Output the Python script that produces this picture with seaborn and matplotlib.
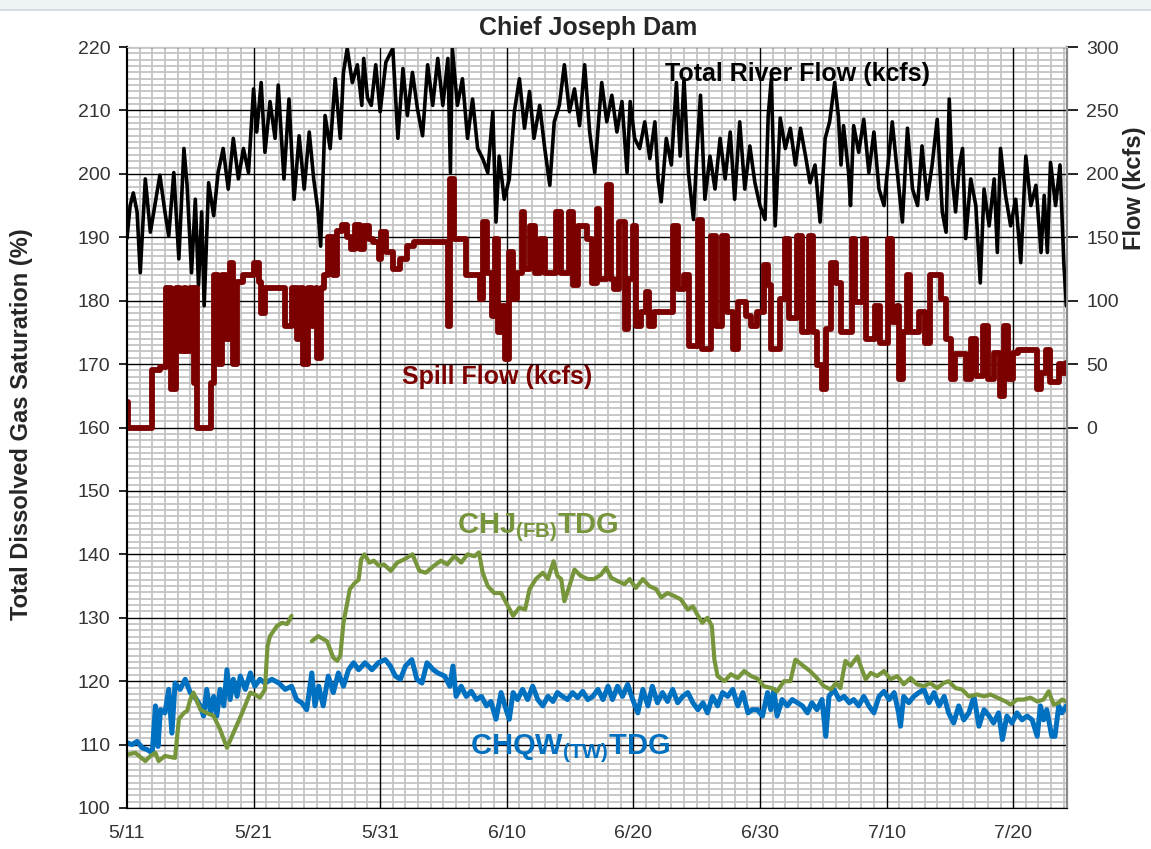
import matplotlib
matplotlib.use("Agg")
import matplotlib.pyplot as plt
import matplotlib.dates as mdates
from matplotlib.patches import Rectangle
import pandas as pd
import seaborn as sns

START = pd.Timestamp("2011-05-11")

# Total river flow (kcfs), right axis
flow_days = [0.0, 0.25, 0.5, 0.8, 1.05, 1.45, 1.85, 2.2, 2.6, 3.0, 3.3, 3.7, 4.1, 4.5, 4.75, 5.1, 5.4, 5.65,
             5.9, 6.1, 6.45, 6.85, 7.2, 7.6, 8.0, 8.4, 8.8, 9.2, 9.6, 10.0, 10.25, 10.6, 10.9, 11.3, 11.7,
             11.95, 12.4, 12.8, 13.2, 13.6, 14.0, 14.4, 14.75, 15.1, 15.3, 15.65, 16.05, 16.45, 16.85, 17.1,
             17.4, 17.8, 18.2, 18.55, 18.7, 19.0, 19.3, 19.65, 20.0, 20.45, 21.0, 21.4, 21.8, 22.15, 22.55,
             22.95, 23.35, 23.75, 24.15, 24.55, 24.95, 25.35, 25.55, 25.7, 26.1, 26.5, 26.9, 27.3, 27.7,
             28.1, 28.5, 28.9, 29.15, 29.4, 29.8, 30.2, 30.6, 31.0, 31.4, 31.8, 32.15, 32.6, 33.0, 33.4,
             33.75, 34.15, 34.55, 34.95, 35.35, 35.75, 36.15, 36.55, 36.95, 37.35, 37.5, 37.9, 38.3, 38.7,
             39.1, 39.5, 39.75, 40.1, 40.5, 40.9, 41.3, 41.7, 41.95, 42.2, 42.6, 43.0, 43.4, 43.7, 44.0,
             44.35, 44.75, 45.0, 45.3, 45.65, 46.05, 46.45, 46.85, 47.25, 47.65, 48.0, 48.4, 48.8, 49.2,
             49.6, 50.0, 50.4, 50.65, 50.9, 51.2, 51.6, 52.0, 52.4, 52.8, 53.2, 53.6, 53.95, 54.35, 54.75,
             55.15, 55.5, 55.9, 56.2, 56.4, 56.6, 57.0, 57.15, 57.4, 57.8, 58.2, 58.6, 59.0, 59.4, 59.8,
             60.05, 60.45, 60.85, 61.25, 61.65, 62.05, 62.45, 62.8, 63.2, 63.6, 64.0, 64.4, 64.7, 64.95,
             65.2, 65.45, 65.75, 66.0, 66.25, 66.65, 67.05, 67.4, 67.7, 68.1, 68.5, 68.75, 69.0, 69.4,
             69.8, 70.2, 70.6, 71.0, 71.4, 71.8, 72.2, 72.45, 72.7, 72.95, 73.35, 73.7, 74.0, 74.2]
flow_kcfs = [149, 175, 185, 170, 122, 196, 154, 175, 199, 170, 151, 201, 133, 220, 191, 122, 180, 112,
             170, 96, 193, 167, 201, 220, 188, 228, 196, 220, 201, 267, 233, 272, 217, 257, 228,
             270, 196, 259, 180, 230, 188, 233, 196, 170, 143, 246, 220, 275, 228, 280,
             299, 272, 286, 254, 291, 260, 254, 286, 249, 288, 299, 228, 283, 246, 280,
             251, 230, 286, 254, 291, 254, 291, 201, 299, 254, 275, 228, 259, 220,
             212, 201, 249, 162, 214, 180, 196, 249, 275, 236, 265, 228, 254, 220, 191,
             241, 254, 286, 249, 267, 238, 286, 233, 201, 254, 272, 241, 262, 233,
             257, 201, 257, 228, 220, 241, 212, 241, 196, 178, 228, 207, 272, 214, 275,
             201, 164, 214, 262, 180, 214, 188, 228, 196, 233, 180, 241, 188, 222,
             193, 175, 164, 246, 275, 159, 244, 220, 236, 207, 236, 214, 193, 207, 162,
             228, 241, 272, 245, 207, 238, 201, 175, 238, 217, 243, 201, 233, 188, 175,
             201, 241, 201, 162, 236, 188, 175, 222, 180, 207, 243, 170, 154, 259,
             196, 170, 207, 220, 149, 196, 175, 114, 188, 159, 196, 138, 220, 183,
             159, 180, 130, 214, 175, 191, 138, 183, 138, 209, 175, 207, 130, 96]

# Spill flow (kcfs), right axis, stepped
spill_days = [0.0, 0.1, 2.0, 2.6, 3.05, 3.5, 3.9, 4.2, 4.5, 4.7, 5.0, 5.3, 5.45, 5.55, 6.6, 6.9, 7.2,
              7.5, 7.8, 8.1, 8.4, 8.7, 9.2, 10.0, 10.4, 10.6, 10.9, 12.5, 13.0, 13.4, 13.7, 13.9,
              14.3, 14.6, 14.9, 15.0, 15.3, 15.6, 15.9, 16.3, 16.6, 17.0, 17.4, 17.7, 18.0, 18.4,
              18.7, 19.1, 19.4, 19.9, 20.05, 20.45, 21.0, 21.6, 22.15, 22.7, 25.05, 25.35, 25.55,
              25.85, 26.8, 27.9, 28.15, 28.4, 28.8, 29.1, 29.3, 29.6, 29.9, 30.2, 30.5, 30.8, 31.2,
              31.4, 31.8, 32.2, 32.6, 33.0, 33.9, 34.3, 34.9, 35.2, 35.6, 36.3, 36.7, 37.1, 37.3,
              37.9, 38.2, 38.5, 38.9, 39.3, 39.6, 39.95, 40.2, 40.6, 41.0, 41.25, 41.6, 43.1, 43.5,
              44.0, 44.4, 45.1, 45.4, 46.15, 46.5, 47.0, 47.4, 47.9, 48.3, 48.9, 49.3, 49.8, 50.35,
              50.6, 50.85, 51.6, 52.0, 52.3, 52.95, 53.3, 53.9, 54.15, 54.5, 54.9, 55.2, 55.6, 56.0,
              56.4, 57.25, 57.5, 58.15, 58.4, 59.1, 59.5, 60.15, 60.4, 60.8, 60.95, 61.3, 61.6,
              61.85, 62.6, 63.0, 63.45, 64.3, 64.7, 65.1, 65.4, 66.3, 66.7, 67.1, 67.6, 68.0, 68.5,
              68.95, 69.25, 69.6, 70.0, 70.4, 71.85, 72.2, 72.6, 72.9, 73.6, 73.85, 74.2]
spill_kcfs = [20, 0, 45, 48, 110, 30, 110, 60, 110, 60, 110, 35, 110, 0, 35, 120, 50,
              120, 70, 130, 50, 115, 120, 130, 115, 90, 110, 80, 110, 70, 110, 50,
              110, 80, 110, 55, 110, 120, 150, 120, 155, 160, 150, 141, 160, 141,
              159, 149, 146, 133, 154, 138, 125, 133, 143, 146, 146, 80, 196,
              149, 120, 101, 162, 122, 88, 149, 75, 96, 54, 138, 101, 122, 170,
              125, 159, 122, 149, 122, 170, 122, 170, 112, 159, 149, 114, 172, 117,
              191, 117, 109, 162, 78, 117, 159, 80, 91, 107, 80, 91, 159, 109,
              120, 64, 164, 62, 151, 80, 151, 91, 62, 99, 88, 80, 91, 128,
              112, 62, 101, 149, 86, 151, 75, 151, 75, 49, 30, 78, 130, 114,
              75, 149, 99, 149, 70, 96, 67, 149, 83, 96, 38, 75, 120,
              75, 91, 67, 120, 101, 70, 38, 58, 38, 70, 41, 80, 38, 59,
              25, 80, 38, 59, 61, 30, 43, 61, 36, 50, 43, 51]

# CHJ forebay TDG (%), two pieces with a data gap
chj_days_a = [0, 0.65, 1.45, 1.85, 2.25, 2.5, 3.0, 3.8, 4.1, 4.5, 4.75, 5.0, 5.25, 5.8, 6.3, 6.85, 7.35,
              7.9, 8.4, 9.1, 9.75, 10.1, 10.5, 10.9, 11.1, 11.3, 11.85, 12.25, 12.65, 13.0]
chj_tdg_a = [108.4, 108.7, 107.4, 108.2, 108.7, 107.4, 108.2, 107.9, 114, 115, 115.3, 117.1, 118.2,
             115.5, 115, 114.5, 112.4, 109.5, 111.8, 115, 118.2, 117.9, 117.4, 118.7, 125.5, 127.1,
             128.7, 129.2, 129, 130.3]
chj_days_b = [14.6, 15.1, 15.8, 16.3, 16.6, 16.85, 17.1, 17.35, 17.6, 18.0, 18.3, 18.5, 18.75, 19.15,
              19.5, 19.9, 20.3, 20.85, 21.35, 21.9, 22.55, 23.1, 23.6, 24.25, 24.8, 25.3, 25.85, 26.4,
              26.9, 27.45, 27.8, 28.1, 28.5, 29.0, 29.55, 30.1, 30.5, 31.0, 31.45, 31.8, 32.3, 32.85,
              33.25, 33.7, 34.0, 34.3, 34.55, 34.95, 35.35, 35.85, 36.4, 36.9, 37.45, 37.85, 38.25,
              38.75, 39.3, 39.7, 40.2, 40.75, 41.25, 41.8, 42.2, 42.7, 43.25, 43.75, 44.3, 44.7, 45.05,
              45.45, 45.85, 46.2, 46.4, 46.65, 47.2, 47.7, 48.25, 48.75, 49.3, 49.8, 50.3, 50.95, 51.35,
              51.9, 52.4, 52.8, 53.3, 53.95, 54.5, 55.05, 55.6, 56.0, 56.35, 56.75, 57.15, 57.7, 57.95,
              58.35, 58.75, 59.25, 59.8, 60.3, 60.85, 61.35, 61.9, 62.4, 62.95, 63.45, 64.0, 64.5,
              64.9, 65.45, 65.95, 66.5, 67.15, 67.7, 68.2, 68.75, 69.4, 69.8, 70.3, 70.85, 71.35,
              71.9, 72.4, 72.8, 73.2, 73.6, 73.85, 74.2]
chj_tdg_b = [126.3, 127.1, 126.3, 123.7, 123.2, 124, 129.2, 131.8, 134.5, 135.5, 136, 139.2, 140, 138.7,
             139, 138.2, 138.4, 137.4, 138.7, 139.2, 140, 137.4, 137.1, 138.2, 139, 138.4, 139.7, 138.7,
             140, 139.7, 140.3, 137.1, 135, 133.9, 133.9, 131.8, 130.3, 131.6, 131.3, 134.5, 136.1, 137.1,
             136.1, 138.9, 136.6, 136.1, 132.6, 135, 137.6, 136.6, 136.1, 136.1, 136.8, 137.9, 136.3,
             135.8, 135.3, 136.1, 134.7, 136.1, 135, 134.5, 133.2, 133.9, 133.4, 132.9, 131.3, 131.8, 130.5,
             129.2, 130, 128.7, 123.4, 120.8, 120, 121.1, 120.5, 121.6, 120.8, 120.4, 119.2, 118.9, 118.4,
             120, 120, 123.4, 122.6, 121.6, 120.5, 119.2, 118.7, 119.7, 118.9, 123.2, 122.4, 123.9, 122.4,
             120.3, 121.3, 120.8, 121.6, 120.3, 120.8, 119.5, 120.5, 119.5, 119.2, 119.7, 118.9, 119.7,
             120, 118.9, 118.7, 117.6, 117.9, 117.6, 117.9, 117.4, 116.8, 116.3, 117.1, 117.1, 117.4,
             116.8, 117.1, 118.4, 116.3, 116.6, 117.1, 116.8]

# CHQW tailwater TDG (%)
chqw_days = [0, 0.4, 0.8, 1.2, 1.6, 2.0, 2.25, 2.45, 2.65, 3.0, 3.3, 3.55, 3.8, 4.2, 4.6, 5.0, 5.4, 5.8,
             6.05, 6.3, 6.6, 6.85, 7.1, 7.35, 7.65, 7.9, 8.15, 8.4, 8.7, 8.95, 9.35, 9.75, 10.1, 10.5,
             10.9, 11.45, 12.0, 12.5, 13.0, 13.4, 13.8, 14.2, 14.6, 14.85, 15.15, 15.5, 15.9, 16.3,
             16.7, 17.1, 17.5, 17.9, 18.3, 18.8, 19.35, 19.85, 20.4, 20.8, 21.2, 21.6, 22.0, 22.5,
             22.9, 23.3, 23.7, 24.2, 24.55, 25.1, 25.5, 25.75, 26.0, 26.4, 26.8, 27.2, 27.6, 28.0,
             28.4, 28.75, 29.15, 29.55, 29.95, 30.2, 30.5, 30.85, 31.25, 31.65, 32.05, 32.45, 32.85,
             33.25, 33.65, 34.0, 34.4, 34.8, 35.2, 35.6, 36.0, 36.4, 36.8, 37.2, 37.6, 38.0, 38.35,
             38.75, 39.15, 39.55, 39.95, 40.35, 40.75, 41.15, 41.5, 41.9, 42.3, 42.7, 43.1, 43.5,
             43.9, 44.3, 44.7, 45.1, 45.5, 45.85, 46.25, 46.65, 47.05, 47.45, 47.85, 48.25, 48.65,
             49.05, 49.4, 49.8, 50.2, 50.6, 50.85, 51.1, 51.35, 51.75, 52.15, 52.55, 52.95, 53.35,
             53.75, 54.1, 54.5, 54.9, 55.2, 55.45, 55.85, 56.25, 56.65, 57.05, 57.4, 57.8, 58.2,
             58.6, 59.0, 59.4, 59.8, 60.2, 60.6, 60.95, 61.1, 61.35, 61.75, 62.15, 62.55, 62.95,
             63.35, 63.75, 64.15, 64.55, 64.9, 65.3, 65.7, 66.1, 66.5, 66.9, 67.3, 67.7, 68.1,
             68.45, 68.85, 69.15, 69.5, 69.9, 70.3, 70.7, 71.1, 71.5, 71.9, 72.15, 72.4, 72.65,
             73.05, 73.3, 73.6, 73.85, 74.2]
chqw_tdg = [110.3, 110, 110.5, 109.5, 109.2, 108.7, 116.1, 109.7, 115.5, 115, 118.7, 111.8, 119.7, 118.7,
            120.3, 118.2, 117.4, 116.1, 114.5, 118.7, 115, 117.6, 114.5, 118.7, 116.1, 121.8, 117.1,
            120.3, 117.6, 120.8, 118.7, 121.3, 119.2, 120.3, 119.7, 120.3, 119.7, 118.7, 119.2, 117.1,
            116.6, 115.5, 121.3, 116.1, 119.2, 116.1, 120.8, 118.2, 121.3, 119.2, 121.8, 122.9, 121.8,
            122.9, 121.8, 122.9, 123.4, 122.4, 120.8, 120.3, 122.4, 123.4, 120.3, 119.7, 122.9, 121.8,
            121.3, 120.8, 119.2, 122.4, 117.6, 119.2, 117.6, 118.4, 117.1, 117.6, 116.1, 116.8, 114,
            118.2, 115.5, 114, 118.2, 117.1, 118.7, 117.1, 119.2, 117.1, 116.1, 117.6, 116.8, 118.2,
            117.6, 117.1, 118.2, 117.4, 118.4, 117.1, 117.6, 118.7, 117.1, 119.2, 117.1, 119.2, 117.6,
            119.5, 117.1, 115, 118.7, 116.1, 119.2, 116.6, 118.2, 116.8, 118.7, 116.6, 117.6, 118.2,
            116.6, 115.5, 116.6, 115, 117.6, 116.1, 118.2, 117.6, 118.7, 116.1, 118.2, 115, 115.5,
            115.5, 114.5, 118.2, 115.5, 118.7, 114.5, 117.1, 116.1, 117.1, 116.6, 116.1, 115, 116.6,
            115.5, 117.1, 111.3, 117.6, 118.7, 117.1, 117.6, 116.6, 117.1, 116.1, 117.6, 116.1, 115,
            117.6, 118.4, 117.1, 118.2, 115, 112.9, 117.6, 116.6, 117.6, 118.2, 118.7, 116.6, 118.2,
            116.1, 117.6, 115, 113.4, 116.1, 113.9, 115, 117.6, 112.9, 115.5, 114.5, 113.4, 115,
            110.8, 114.5, 113.4, 115, 113.9, 114.5, 113.9, 111.3, 116.1, 113.9, 115.5, 111.3, 111.3,
            116.1, 115, 116.1]

tick_labels = ["5/11", "5/21", "5/31", "6/10", "6/20", "6/30", "7/10", "7/20"]
tdg_ticks = list(range(100, 221, 10))
flow_ticks = list(range(0, 301, 50))


def frame(days, values):
    return pd.DataFrame({"date": START + pd.to_timedelta(days, unit="D"), "value": values})


sns.set_style("white")
plt.rcParams["font.family"] = ["Liberation Sans", "DejaVu Sans"]
plt.rcParams["mathtext.fontset"] = "custom"
plt.rcParams["mathtext.rm"] = "Liberation Sans"
plt.rcParams["mathtext.bf"] = "Liberation Sans:bold"

fig = plt.figure(figsize=(11.51, 8.49), dpi=100)
fig.patches.append(Rectangle((0, 1 - 9 / 849), 1, 9 / 849, transform=fig.transFigure,
                             facecolor="#eef3f6", edgecolor="none"))
fig.lines.append(plt.Line2D([0, 1], [1 - 10 / 849] * 2, transform=fig.transFigure,
                            color="#d5dde2", lw=1.5))

ax = fig.add_axes([0.1103, 0.0483, 0.8167, 0.8963])
ax2 = ax.twinx()
ax.set_zorder(1)
ax2.set_zorder(2)

grey = "#333333"

# TDG series on left axis
sns.lineplot(data=frame(chqw_days, chqw_tdg), x="date", y="value", ax=ax,
             color="#0070c0", lw=3.6, zorder=3)
sns.lineplot(data=frame(chj_days_a, chj_tdg_a), x="date", y="value", ax=ax,
             color="#77963c", lw=3.0, zorder=4)
sns.lineplot(data=frame(chj_days_b, chj_tdg_b), x="date", y="value", ax=ax,
             color="#77963c", lw=3.0, zorder=4)

# flows on right axis
sns.lineplot(data=frame(flow_days, flow_kcfs), x="date", y="value", ax=ax2,
             color="black", lw=2.6)
sns.lineplot(data=frame(spill_days, spill_kcfs), x="date", y="value", ax=ax2,
             color="#7b0000", lw=4.2, drawstyle="steps-post")

xmin = START
xmax = START + pd.Timedelta(days=74.25)
ax.set_xlim(xmin, xmax)
ax.set_ylim(100, 220)
ax2.set_ylim(-300, 300)

major_x = [mdates.date2num(START + pd.Timedelta(days=10 * i)) for i in range(len(tick_labels))]
ax.set_xticks(major_x, tick_labels)
ax.xaxis.set_minor_locator(mdates.DayLocator())
ax.set_yticks(tdg_ticks)
ax.set_yticks(range(100, 221), minor=True)
ax2.set_yticks(flow_ticks)

# light daily / unit grid, black major grid on top of it
ax.grid(which="minor", color="#c4c4c4", lw=1.3)
ax.grid(which="major", axis="y", color="black", lw=1.0)
ax.grid(which="major", axis="x", visible=False)
ax.set_axisbelow(True)
for xv in major_x[1:]:
    ax.axvline(xv, color="black", lw=1.0, zorder=0.8)
ax2.grid(False)

ax.tick_params(axis="both", which="major", labelsize=14, labelcolor=grey, direction="out",
               length=6, width=1.2, color="black", pad=6)
ax.tick_params(axis="both", which="minor", length=0)
ax2.tick_params(axis="y", labelsize=14, labelcolor=grey, direction="out",
                length=8, width=1.2, color="black", pad=6)
ax.set_xlabel("")
ax.set_ylabel("")
ax2.set_ylabel("")

for a in (ax, ax2):
    a.spines["left"].set_color("black")
    a.spines["left"].set_linewidth(1.5)
    a.spines["bottom"].set_color("black")
    a.spines["right"].set_color("#8a8a8a")
    a.spines["right"].set_linewidth(1.5)
    a.spines["top"].set_color("#c4c4c4")

fig.text(0.511, 1 - 28 / 849, "Chief Joseph Dam", ha="center", va="center",
         fontsize=18, fontweight="bold")
fig.text(22 / 1151, 1 - 424 / 849, "Total Dissolved Gas Saturation (%)", rotation=90,
         ha="center", va="center", fontsize=17, fontweight="bold")
fig.text(1135 / 1151, 1 - 188 / 849, "Flow (kcfs)", rotation=90,
         ha="center", va="center", fontsize=17, fontweight="bold")

ax2.text(START + pd.Timedelta(days=42.5), 279, "Total River Flow (kcfs)", ha="left",
         va="center", fontsize=18, fontweight="bold", color="black")
ax2.text(START + pd.Timedelta(days=21.7), 40, "Spill Flow (kcfs)", ha="left",
         va="center", fontsize=18, fontweight="bold", color="#7b0000")
ax.text(START + pd.Timedelta(days=26.1), 144.2, r"CHJ$_{\mathbf{(FB)}}$TDG", ha="left",
        va="center", fontsize=21, fontweight="bold", color="#77963c", zorder=6)
ax.text(START + pd.Timedelta(days=27.1), 109.3, r"CHQW$_{\mathbf{(TW)}}$TDG", ha="left",
        va="center", fontsize=21, fontweight="bold", color="#0070c0", zorder=6)

fig.savefig("out.png", dpi=100)
